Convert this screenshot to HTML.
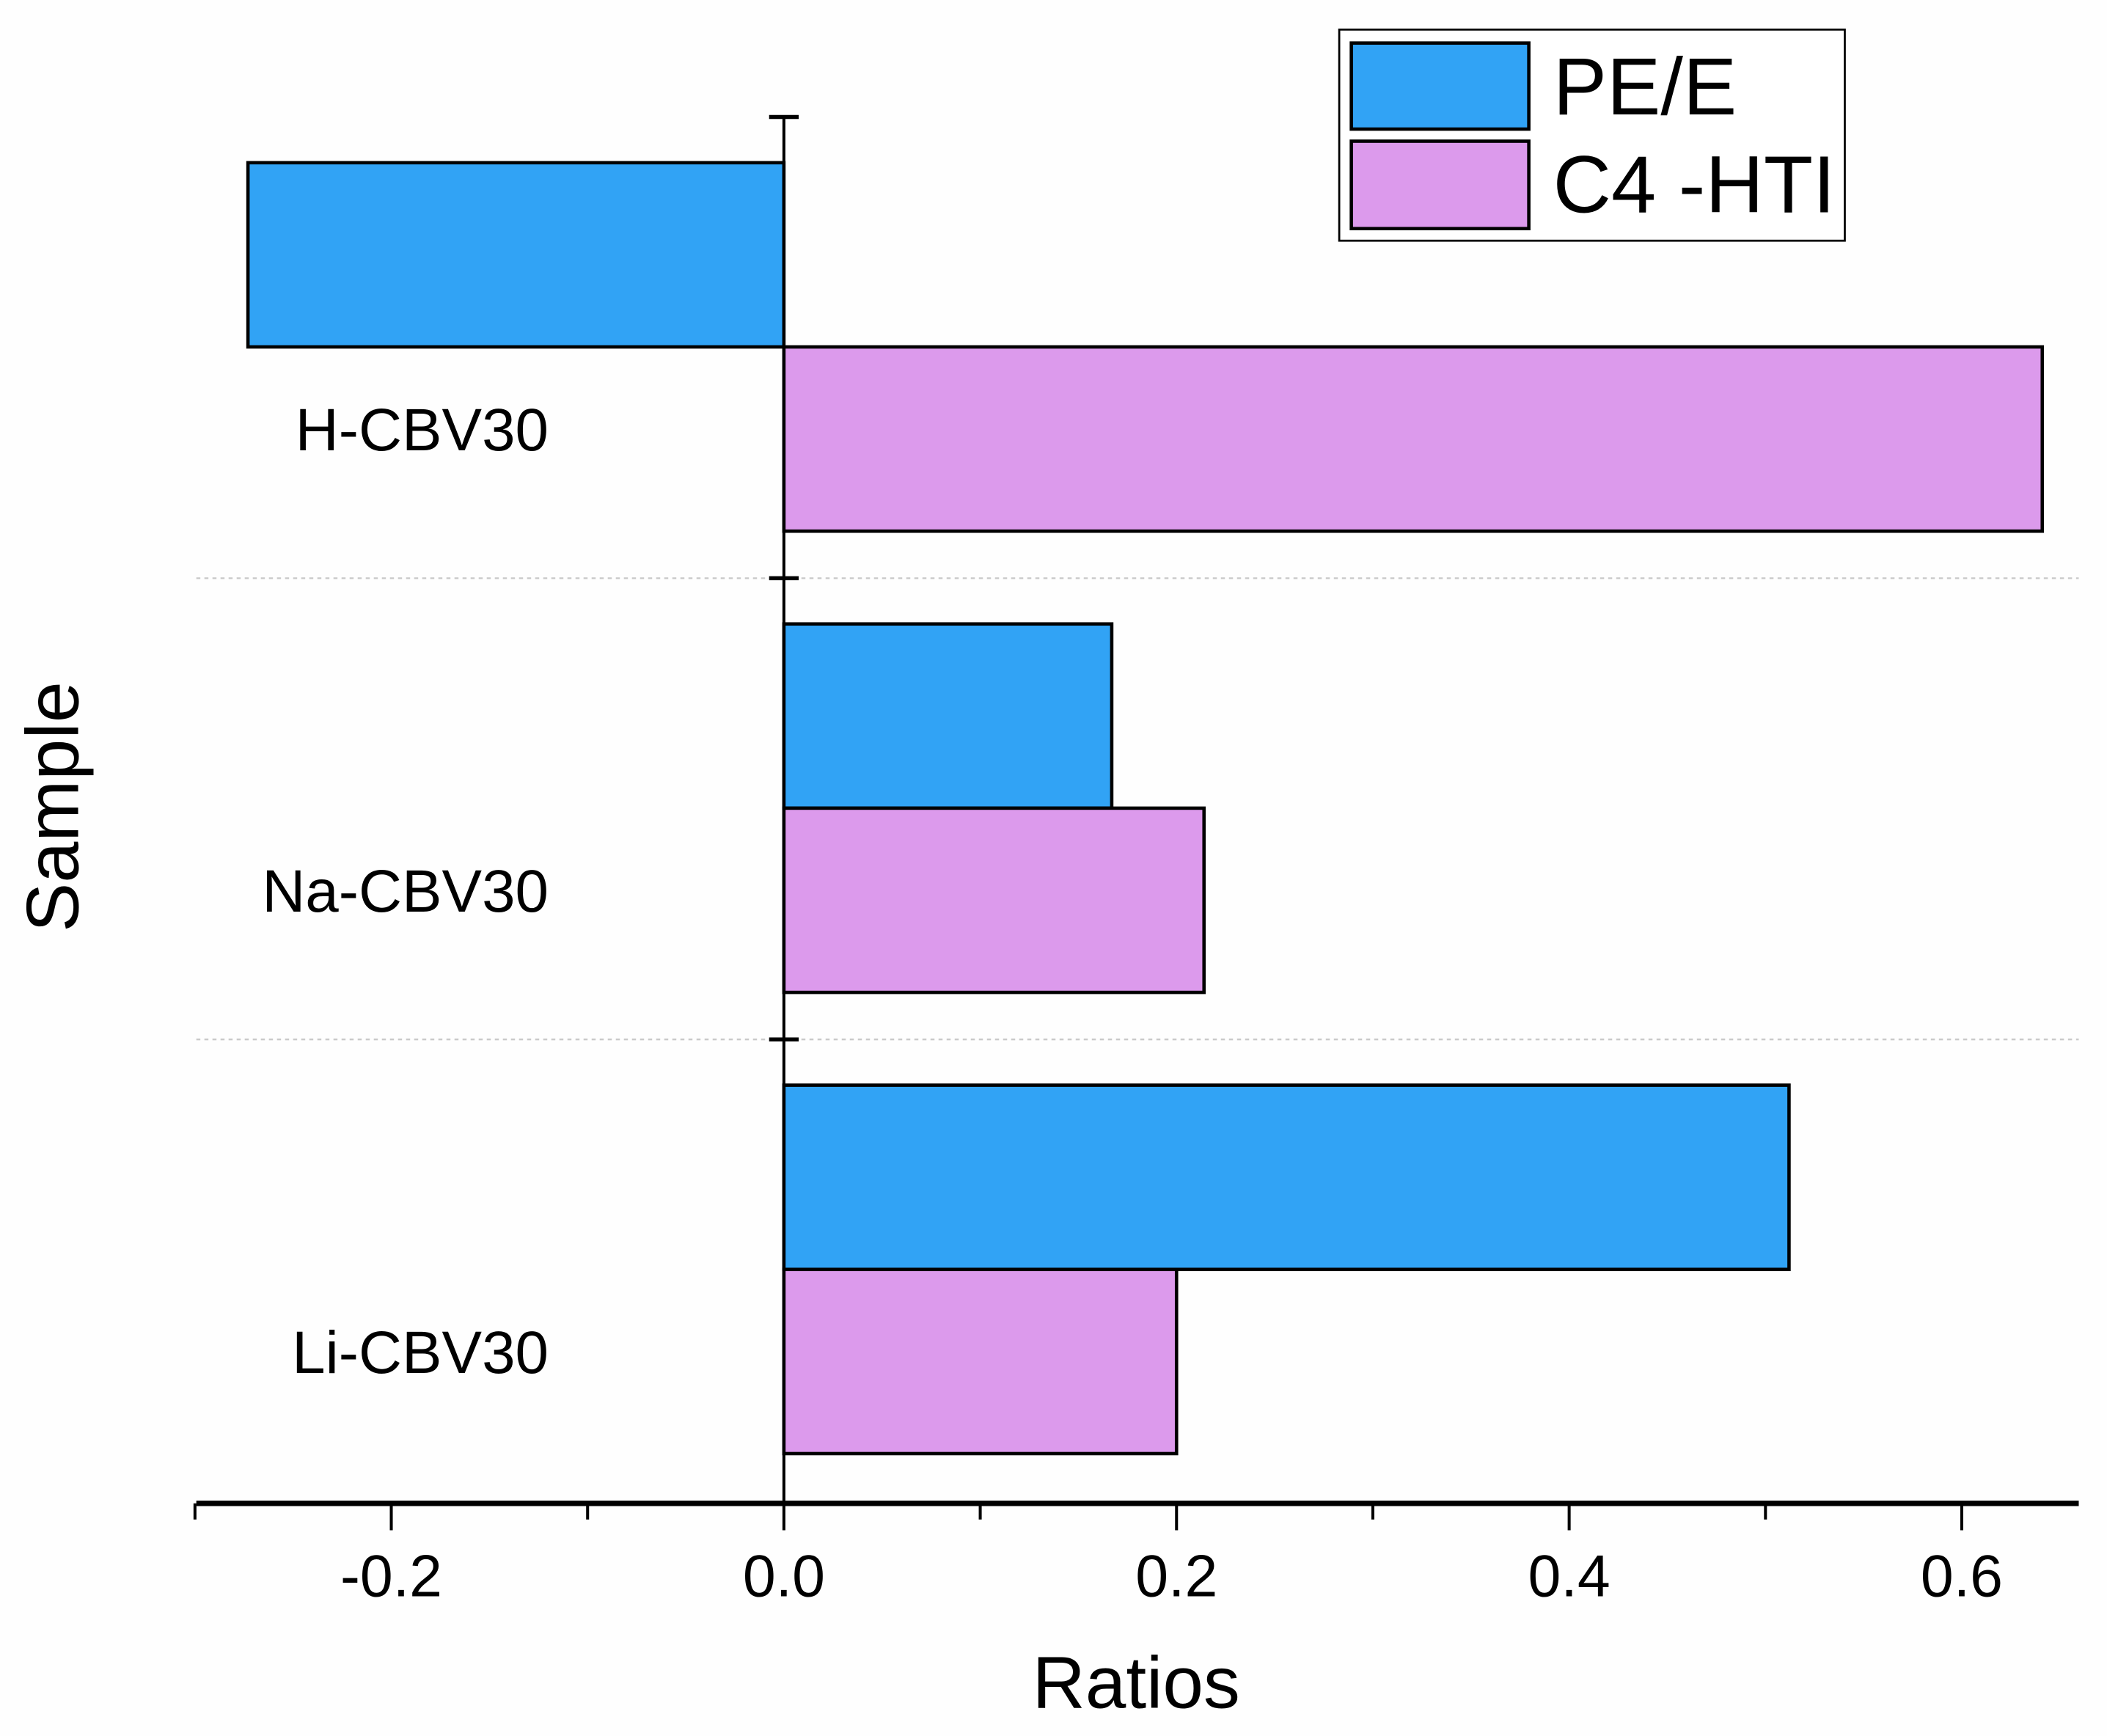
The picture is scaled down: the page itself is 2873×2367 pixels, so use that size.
<!DOCTYPE html>
<html><head><meta charset="utf-8"><style>
html,body{margin:0;padding:0;background:#fefefe;}
svg{display:block;font-family:"Liberation Sans",Arial,sans-serif;}
</style></head><body>
<svg id="chart" width="2873" height="2367" viewBox="0 0 1567 1291" preserveAspectRatio="none" xmlns="http://www.w3.org/2000/svg">
<rect x="0" y="0" width="1567" height="1291" fill="#fefefe"/>
<g id="grid"></g>
<g id="bars"></g>
<g id="axes"></g>
<g id="labels"></g>
<g>
<rect x="996" y="22" width="376" height="157" fill="#fff" stroke="#000" stroke-width="1.5"/>
<rect x="1005" y="32" width="132" height="64" fill="#31a3f5" stroke="#000" stroke-width="2.5"/>
<text x="1155" y="85" font-size="60">PE/E</text>
<rect x="1005" y="105" width="132" height="65" fill="#dc9aec" stroke="#000" stroke-width="2.5"/>
<text x="1155" y="158" font-size="60">C4 -HTI</text>
</g>
<text x="845" y="1270" font-size="54.5" text-anchor="middle">Ratios</text>
<text x="0" y="0" font-size="55" text-anchor="middle" transform="translate(58,600) rotate(-90)">Sample</text>
</svg>
<script>
const categories = ["H-CBV30", "Na-CBV30", "Li-CBV30"];
const peE = [-0.273, 0.167, 0.512];
const c4Hti = [0.641, 0.214, 0.200];
const xTicks = [-0.2, 0.0, 0.2, 0.4, 0.6];
const xTickLabels = ["-0.2", "0.0", "0.2", "0.4", "0.6"];
const xMinorTicks = [-0.3, -0.1, 0.1, 0.3, 0.5];

const NS = "http://www.w3.org/2000/svg";
const X0 = 583, XS = 1460;
function xScale(v){ return X0 + v * XS; }
const Y_TOP = 87, BAND = 343;
function yCenter(i){ return Y_TOP + BAND * i + 171; }
const BH = 137;
function mk(tag, attrs, parent){
  const e = document.createElementNS(NS, tag);
  for (const k in attrs) e.setAttribute(k, attrs[k]);
  parent.appendChild(e);
  return e;
}
const gGrid = document.getElementById('grid');
const gBars = document.getElementById('bars');
const gAxes = document.getElementById('axes');
const gLab = document.getElementById('labels');

for (let i = 1; i < categories.length; i++) {
  const y = Y_TOP + BAND * i;
  const l = mk('line', {x1:146, x2:1546, y1:y, y2:y, stroke:'#c8c8c8', 'stroke-width':1.2, 'stroke-dasharray':'3,3'}, gGrid);
  
  
}

categories.forEach((c, i) => {
  const yc = yCenter(i);
  const series = [[peE[i], '#31a3f5', 'bar-pe-e-', yc - BH], [c4Hti[i], '#dc9aec', 'bar-c4-hti-', yc]];
  series.forEach(s => {
    const x1 = xScale(Math.min(0, s[0])), x2 = xScale(Math.max(0, s[0]));
    const r = mk('rect', {x:x1, y:s[3], width:x2 - x1, height:BH, fill:s[1], stroke:'#000', 'stroke-width':2.5}, gBars);
    
    
  });
  const t = mk('text', {x:408, y:yc + 77, 'font-size':44.6, 'text-anchor':'end'}, gLab);
  t.textContent = c;
  
  
});

const ya = mk('line', {x1:X0, x2:X0, y1:Y_TOP, y2:1118, stroke:'#000', 'stroke-width':2.2}, gAxes);


for (let i = 0; i < categories.length; i++) {
  const y = Y_TOP + BAND * i;
  const tk = mk('line', {x1:X0 - 11, x2:X0 + 11, y1:y, y2:y, stroke:'#000', 'stroke-width':3}, gAxes);
  
  
}
const xa = mk('line', {x1:146, x2:1546, y1:1118, y2:1118, stroke:'#000', 'stroke-width':4}, gAxes);


xTicks.forEach((v, i) => {
  const x = xScale(v);
  const tk = mk('line', {x1:x, x2:x, y1:1118, y2:1138, stroke:'#000', 'stroke-width':2.2}, gAxes);
  
  
  const t = mk('text', {x:x, y:1187, 'font-size':44, 'text-anchor':'middle'}, gLab);
  t.textContent = xTickLabels[i];
  
  
});
xMinorTicks.forEach(v => {
  const x = xScale(v);
  const tk = mk('line', {x1:x, x2:x, y1:1118, y2:1130, stroke:'#000', 'stroke-width':2.2}, gAxes);
  
  
});
</script>
</body></html>
